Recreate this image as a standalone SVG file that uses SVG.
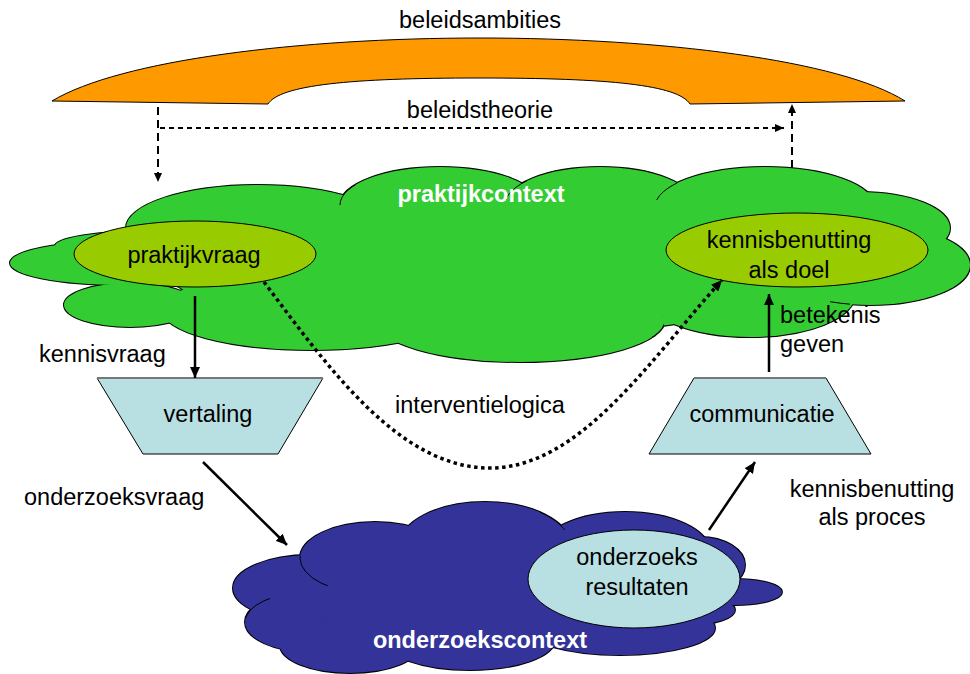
<svg xmlns="http://www.w3.org/2000/svg" xmlns:xlink="http://www.w3.org/1999/xlink" width="970" height="674" viewBox="0 0 970 674">
<style>
.t{font-family:"Liberation Sans",Arial,sans-serif;font-size:23.5px;fill:#000;text-anchor:middle}
.tw{font-family:"Liberation Sans",Arial,sans-serif;font-size:23.5px;font-weight:bold;fill:#fff;text-anchor:middle}
.tl{font-family:"Liberation Sans",Arial,sans-serif;font-size:23.5px;fill:#000}
.ol{fill:none;stroke:#000;stroke-width:2}
.arc{fill:none;stroke:#000;stroke-width:1}
.con{fill:none;stroke:#000;stroke-width:2.5}
.dash{fill:none;stroke:#000;stroke-width:2;stroke-dasharray:8 5}
.dash2{fill:none;stroke:#000;stroke-width:2;stroke-dasharray:5 4}
.dot{fill:none;stroke:#000;stroke-width:3.5;stroke-dasharray:3.5 3.5}
.trap{fill:#B8DFE2;stroke:#000;stroke-width:1}
</style>
<defs>
<marker id="ah" markerUnits="userSpaceOnUse" markerWidth="12" markerHeight="10" refX="11" refY="5" orient="auto"><path d="M0,0 L11,5 L0,10 z" fill="#000"/></marker>
<marker id="ahs" markerUnits="userSpaceOnUse" markerWidth="10" markerHeight="8" refX="9" refY="4" orient="auto"><path d="M0,0 L9,4 L0,8 z" fill="#000"/></marker>
<g id="gcl">
<ellipse cx="258" cy="228" rx="132" ry="43"/>
<ellipse cx="440" cy="205" rx="100" ry="38"/>
<ellipse cx="600" cy="205" rx="95" ry="38"/>
<ellipse cx="765" cy="207" rx="110" ry="40"/>
<ellipse cx="860" cy="228" rx="90" ry="36"/>
<ellipse cx="870" cy="265" rx="100" ry="40"/>
<ellipse cx="750" cy="295" rx="105" ry="42"/>
<ellipse cx="520" cy="320" rx="145" ry="42"/>
<ellipse cx="312" cy="310" rx="150" ry="40"/>
<ellipse cx="130" cy="305" rx="66" ry="22"/>
<ellipse cx="120" cy="263" rx="110" ry="22"/>
<ellipse cx="150" cy="246" rx="95" ry="15"/>
<ellipse cx="490" cy="262" rx="330" ry="75"/>
</g>
<g id="bcl">
<ellipse cx="375" cy="558" rx="75" ry="36"/>
<ellipse cx="485" cy="545" rx="85" ry="43"/>
<ellipse cx="625" cy="552" rx="85" ry="40"/>
<ellipse cx="700" cy="565" rx="45" ry="28"/>
<ellipse cx="735" cy="592" rx="47" ry="13"/>
<ellipse cx="690" cy="610" rx="45" ry="15"/>
<ellipse cx="620" cy="628" rx="95" ry="27"/>
<ellipse cx="470" cy="640" rx="85" ry="30"/>
<ellipse cx="350" cy="645" rx="70" ry="28"/>
<ellipse cx="310" cy="622" rx="65" ry="30"/>
<ellipse cx="310" cy="588" rx="77" ry="33"/>
<ellipse cx="490" cy="590" rx="200" ry="50"/>
</g>
<clipPath id="c1"><rect x="338" y="185" width="40" height="20"/></clipPath>
<clipPath id="c2"><rect x="505" y="178" width="22" height="22"/></clipPath>
<clipPath id="c3"><rect x="655" y="178" width="22" height="22"/></clipPath>
<clipPath id="c5"><rect x="652" y="316" width="12" height="22"/></clipPath>
<clipPath id="c6"><rect x="830" y="285" width="20" height="22"/></clipPath>
<clipPath id="c7"><rect x="540" y="505" width="25" height="25"/></clipPath>
<clipPath id="c8"><rect x="298" y="556" width="30" height="30"/></clipPath>
<clipPath id="c9"><rect x="246" y="596" width="24" height="22"/></clipPath>
</defs>

<g id="beleidsambities">
<path d="M52,101 C120,60 300,38 480,38 C660,38 840,60 905,101 L690,104 C678,85 610,78 479,78 C350,78 280,85 268,104 Z" fill="#FF9900" stroke="#000" stroke-width="1"/>
<text class="t" x="480" y="28">beleidsambities</text>
</g>

<g id="praktijkcontext">
<use xlink:href="#gcl" class="ol"/>
<use xlink:href="#gcl" fill="#33CC33"/>
<g class="arc">
<ellipse cx="440" cy="205" rx="100" ry="38" clip-path="url(#c1)"/>
<ellipse cx="600" cy="205" rx="95" ry="38" clip-path="url(#c2)"/>
<ellipse cx="765" cy="207" rx="110" ry="40" clip-path="url(#c3)"/>
<ellipse cx="520" cy="320" rx="145" ry="42" clip-path="url(#c5)"/>
<ellipse cx="870" cy="265" rx="100" ry="40" clip-path="url(#c6)"/>
</g>
<text class="tw" x="481" y="202">praktijkcontext</text>
</g>

<g id="praktijkvraag">
<ellipse cx="195" cy="254" rx="121" ry="33" fill="#99CC00" stroke="#000" stroke-width="1"/>
<text class="t" x="194" y="263">praktijkvraag</text>
</g>

<g id="kennisbenutting-doel">
<ellipse cx="797" cy="250" rx="131" ry="37" fill="#99CC00" stroke="#000" stroke-width="1"/>
<text class="t" x="789" y="248">kennisbenutting</text>
<text class="t" x="789" y="278">als doel</text>
</g>

<g id="vertaling">
<path class="trap" d="M97,378 L323,378 L278,454 L143,454 Z"/>
<line x1="97" y1="378" x2="323" y2="378" stroke="#777" stroke-width="2"/>
<text class="t" x="208" y="422">vertaling</text>
</g>

<g id="communicatie">
<path class="trap" d="M694,378 L826,378 L871,454 L649,454 Z"/>
<line x1="694" y1="378" x2="826" y2="378" stroke="#777" stroke-width="2"/>
<text class="t" x="762" y="422">communicatie</text>
</g>

<g id="onderzoekscontext">
<use xlink:href="#bcl" class="ol"/>
<use xlink:href="#bcl" fill="#333399"/>
<g class="arc">
<ellipse cx="485" cy="545" rx="85" ry="43" clip-path="url(#c7)"/>
<ellipse cx="375" cy="558" rx="75" ry="36" clip-path="url(#c8)"/>
<ellipse cx="310" cy="622" rx="65" ry="30" clip-path="url(#c9)"/>
</g>
<text class="tw" x="480" y="648">onderzoekscontext</text>
</g>

<g id="onderzoeksresultaten">
<ellipse cx="634" cy="579" rx="106" ry="49" fill="#B8DFE2" stroke="#000" stroke-width="1"/>
<text class="t" x="637" y="565">onderzoeks</text>
<text class="t" x="637" y="595">resultaten</text>
</g>

<g id="connectors">
<path class="dash" d="M158,107 L158,182" marker-end="url(#ahs)"/>
<path class="dash2" d="M160,128 L784,128" marker-end="url(#ahs)"/>
<path class="dash" d="M792,168 L792,104" marker-end="url(#ahs)"/>
<path class="con" d="M195,296 L195,378" marker-end="url(#ah)"/>
<path class="con" d="M203,462 L287,545" marker-end="url(#ah)"/>
<path class="con" d="M709,530 L755,462" marker-end="url(#ah)"/>
<path class="con" d="M769,372 L769,294" marker-end="url(#ah)"/>
<path class="dot" d="M264,282 C330,370 400,468 490,468 C580,468 650,360 722,280" marker-end="url(#ah)"/>
</g>

<g id="labels">
<text class="t" x="480" y="118">beleidstheorie</text>
<text class="tl" x="39" y="362">kennisvraag</text>
<text class="tl" x="24" y="505">onderzoeksvraag</text>
<text class="t" x="480" y="413">interventielogica</text>
<text class="tl" x="780" y="323">betekenis</text>
<text class="tl" x="780" y="352">geven</text>
<text class="t" x="872" y="497">kennisbenutting</text>
<text class="t" x="872" y="525">als proces</text>
</g>
</svg>
